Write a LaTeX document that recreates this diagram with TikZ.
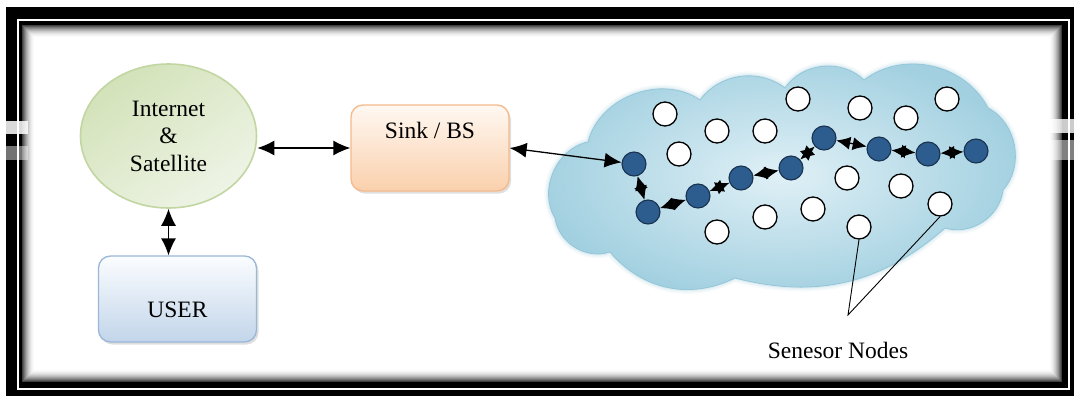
\documentclass[tikz,border=0pt]{standalone}
\usepackage{fontspec}
\setmainfont{Liberation Serif}
\usetikzlibrary{shapes.geometric,arrows.meta,shadows}

\definecolor{cloudin}{HTML}{E0F0F6}
\definecolor{cloudout}{HTML}{A2D0E0}
\definecolor{cloudline}{HTML}{93C6D8}
\definecolor{netfill}{HTML}{D3E2B9}
\definecolor{netlight}{HTML}{EEF4E6}
\definecolor{netline}{HTML}{C2D6A2}
\definecolor{sinktop}{HTML}{FFF8F2}
\definecolor{sinkbot}{HTML}{FAD0AC}
\definecolor{sinkline}{HTML}{F3BA8C}
\definecolor{usertop}{HTML}{FBFDFF}
\definecolor{userbot}{HTML}{C2D5EA}
\definecolor{userline}{HTML}{9AB7D8}
\definecolor{hopfill}{HTML}{2D5D8F}
\definecolor{hopline}{HTML}{18324F}

\tikzset{
  txt/.style={font=\fontsize{23.5}{27.5}\selectfont},
  netnode/.style={ellipse, draw=netline, line width=1.6, minimum width=176, minimum height=144,
    top color=netfill, bottom color=netlight, shading angle=35, inner sep=0, txt, align=center},
  boxnode/.style={rectangle, rounded corners=12, minimum width=158, minimum height=86,
    line width=1.3, txt, inner sep=0,
    drop shadow={opacity=0.25, shadow xshift=2pt, shadow yshift=-2.5pt}},
  sinkbox/.style={boxnode, draw=sinkline, top color=sinktop, bottom color=sinkbot,
    text height=16pt, text depth=34pt},
  userbox/.style={boxnode, draw=userline, top color=usertop, bottom color=userbot,
    text height=41pt, text depth=5pt},
  hop/.style={circle, minimum size=24, inner sep=0, fill=hopfill, draw=hopline, line width=1.1},
  idle/.style={circle, minimum size=24, inner sep=0, fill=white, draw=black, line width=1.3},
  link/.style={{Latex[length=17pt,width=15pt]}-{Latex[length=17pt,width=15pt]}, line width=1.3},
  hoplink/.style={{Latex[length=14pt,width=13pt]}-{Latex[length=14pt,width=13pt]}, line width=1.3},
  callout/.style={line width=0.9, black},
}

\begin{document}
\begin{tikzpicture}[x=1pt, y=-1pt]
\useasboundingbox (0,0) rectangle (1074,396);

% double frame with inner shadow
\fill[black] (6,7) rectangle (1074,396);
\draw[white, line width=1.6] (18,20) rectangle (1069,389);
\fill[white] (22,25) rectangle (1062,382);
\foreach \i [evaluate=\i as \op using 0.75*((13-\i)/13)^2] in {0,...,12}
  \draw[black, opacity=\op, line width=1] ({22.5+\i},{25.5+\i}) rectangle ({1061.5-\i},{381.5-\i});
% streaks across the side bars
\fill[white, opacity=0.85] (0,121) rectangle (28,134);
\fill[white, opacity=0.45] (0,146) rectangle (28,160);
\fill[white, opacity=0.8] (1040,119) rectangle (1074,133);
\fill[white, opacity=0.5] (1040,140) rectangle (1074,160);

% left part of the network
\node[netnode] (net) at (168.5,136) {Internet\\\&\\Satellite};
\node[sinkbox] (sink) at (430,148) {Sink / BS};
\node[userbox] (user) at (177.5,299) {USER};

\draw[link] (net.east |- sink.west) -- (sink.west);
\draw[link] (net.south) -- (net.south |- user.north);

% sensor field: a cloud made of puffs between the dips
\def\fieldpath{(555,218) to[bend left=55] (588,142) to[bend left=55] (700,100)
  to[bend left=45] (785,88) to[bend left=50] (864,80) to[bend left=50] (988,108)
  to[bend left=52] (1003,190) to[bend left=50] (945,228) to[bend left=28] (735,278)
  to[bend left=38] (610,252) to[bend left=50] (555,218) -- cycle}
\foreach \w/\o in {9/0.06, 6/0.10, 3/0.16}
  \draw[cloudline, line width=\w, opacity=\o, line join=round] \fieldpath;
\shade[inner color=cloudin, outer color=cloudout] \fieldpath;
\draw[cloudline, line width=0.8] \fieldpath;

\foreach \n/\p in {w1/{(665,114)}, w2/{(717,131)}, w3/{(765,131)}, w4/{(798,99)},
                   w5/{(860,108)}, w6/{(906,118)}, w7/{(947,99)}, w8/{(679,154)},
                   w9/{(847,178)}, w10/{(901,186)}, w11/{(940,204)}, w12/{(717,232)},
                   w13/{(765,217)}, w14/{(813,209)}, w15/{(859,227)}}
  \node[idle] (\n) at \p {};

\foreach \n/\p in {b1/{(634,164)}, b2/{(648,212)}, b3/{(698,196)}, b4/{(741,178)},
                   b5/{(791,168)}, b6/{(824,138)}, b7/{(879,149)}, b8/{(928,154)},
                   b9/{(976,151)}}
  \node[hop] (\n) at \p {};

\draw[link] (sink.east) -- (b1);
\foreach \a/\b in {b1/b2, b2/b3, b3/b4, b4/b5, b5/b6, b6/b7, b7/b8, b8/b9}
  \draw[hoplink] (\a) -- (\b);

% label for the sensor nodes
\coordinate (apex) at (848,315);
\draw[callout] (w15.south) -- (apex) -- (w11.south);
\node[txt] (senselbl) at (838,350) {Senesor Nodes};
\end{tikzpicture}
\end{document}
